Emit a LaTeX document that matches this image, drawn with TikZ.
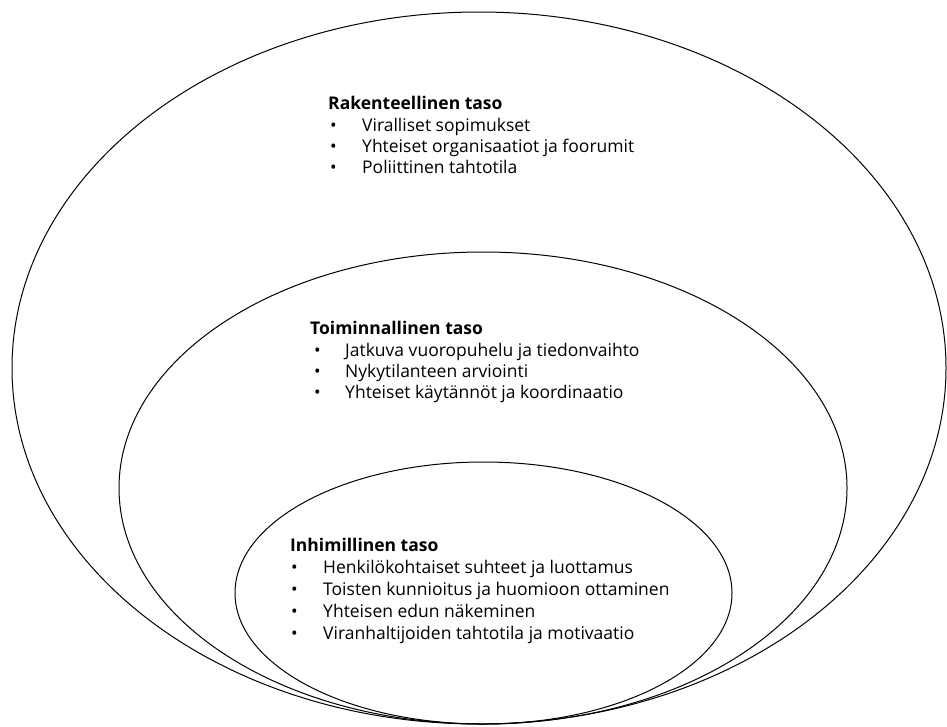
\documentclass[tikz,border=0pt]{standalone}
\usepackage{fontspec}
\setmainfont{Open Sans}
\usetikzlibrary{shapes.geometric}
\tikzset{
  ring/.style={ellipse,draw,line width=1pt,inner sep=0pt},
  head/.style={anchor=west,inner sep=0pt,text height=1.6ex,text depth=.4ex,font=\fontsize{17.5}{21}\selectfont\bfseries},
  item/.style={anchor=west,inner sep=0pt,text height=1.6ex,text depth=.4ex,font=\fontsize{17.5}{21}\selectfont},
}
\begin{document}
\begin{tikzpicture} [x=1pt,y=-1pt]
\useasboundingbox (0,0) rectangle (947,726);
%rings
        \node[ring,minimum width=934pt,minimum height=712pt] (outer) at (479,368) {};
        \node[ring,minimum width=728pt,minimum height=472pt] (middle) at (483,488) {};
        \node[ring,minimum width=497pt,minimum height=262pt] (inner) at (483.5,593) {};

%rakenteellinen
        \node[head] (h1) at (328,106) {Rakenteellinen taso};
        \node[item] (b11) at (330,128) {•};
        \node[item] (i11) at (362,128) {Viralliset sopimukset};
        \node[item] (b12) at (330,149) {•};
        \node[item] (i12) at (362,149) {Yhteiset organisaatiot ja foorumit};
        \node[item] (b13) at (330,170) {•};
        \node[item] (i13) at (362,170) {Poliittinen tahtotila};

%toiminnallinen
        \node[head] (h2) at (310,331) {Toiminnallinen taso};
        \node[item] (b21) at (314,353) {•};
        \node[item] (i21) at (345,353) {Jatkuva vuoropuhelu ja tiedonvaihto};
        \node[item] (b22) at (314,374) {•};
        \node[item] (i22) at (345,374) {Nykytilanteen arviointi};
        \node[item] (b23) at (314,395) {•};
        \node[item] (i23) at (345,395) {Yhteiset käytännöt ja koordinaatio};

%inhimillinen
        \node[head] (h3) at (290,548) {Inhimillinen taso};
        \node[item] (b31) at (291,570) {•};
        \node[item] (i31) at (323,570) {Henkilökohtaiset suhteet ja luottamus};
        \node[item] (b32) at (291,592) {•};
        \node[item] (i32) at (323,592) {Toisten kunnioitus ja huomioon ottaminen};
        \node[item] (b33) at (291,614) {•};
        \node[item] (i33) at (323,614) {Yhteisen edun näkeminen};
        \node[item] (b34) at (291,636) {•};
        \node[item] (i34) at (323,636) {Viranhaltijoiden tahtotila ja motivaatio};
\end{tikzpicture}
\end{document}
